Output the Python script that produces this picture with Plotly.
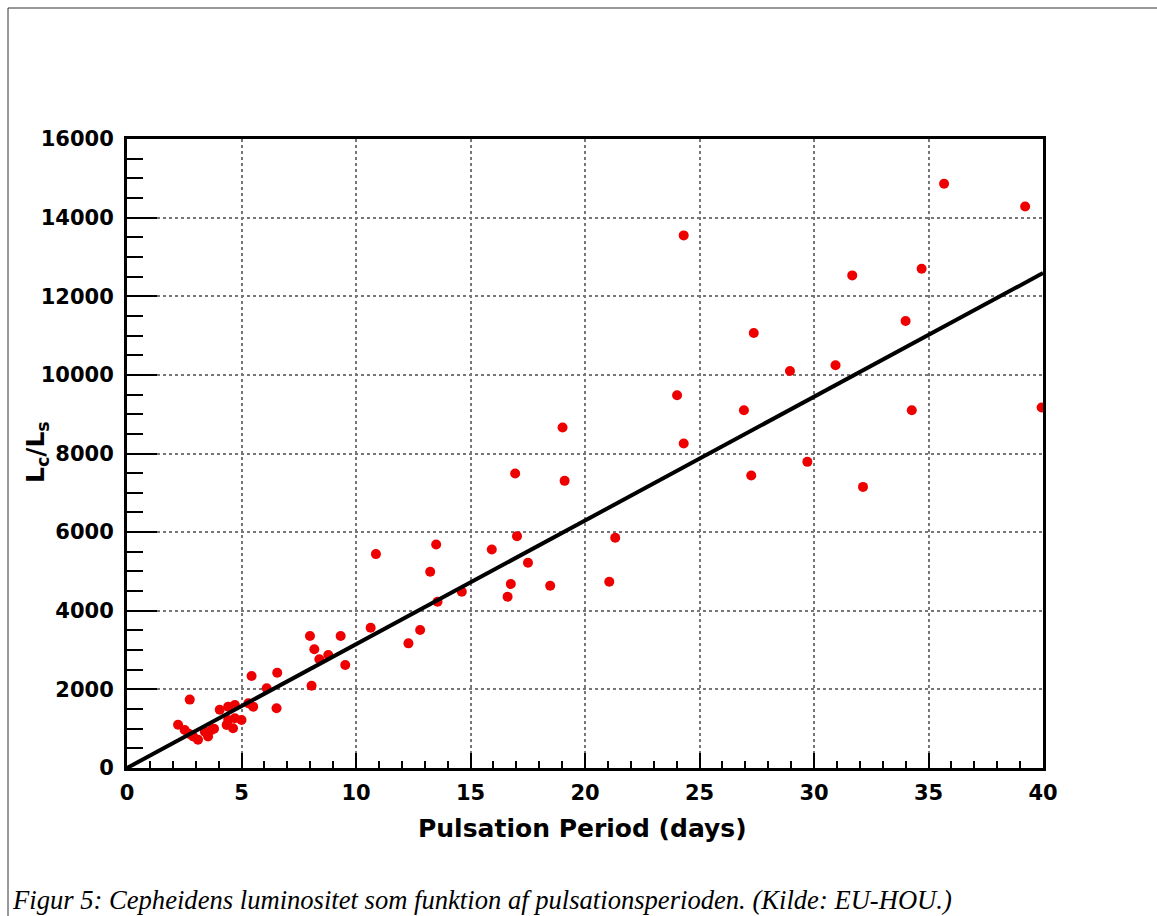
import plotly.graph_objects as go

# Data
period_days = [
    2.23, 2.52, 2.74, 2.89, 3.10, 2.70, 3.40, 3.54, 3.69, 3.80,
    4.05, 4.42, 4.71, 4.35, 4.63, 4.42, 4.71, 5.00, 5.30, 5.51,
    5.44, 6.10, 6.56, 6.53,
    7.99, 8.18, 8.06, 8.40, 8.79, 9.33, 9.53, 10.64, 12.29, 12.80,
    10.87, 13.24, 13.50, 13.56, 14.62, 15.93, 16.62, 16.76, 16.95, 17.03,
    17.51, 18.48, 19.02, 19.11, 21.06, 21.32,
    24.02, 24.31, 24.31, 26.94, 27.26, 27.37, 28.95, 29.71, 30.94, 31.67,
    32.14, 34.00, 34.27, 34.70, 35.68, 39.22, 39.94,
]
luminosity_ratio = [
    1100, 968, 1740, 800, 720, 870, 925, 800, 968, 1000,
    1480, 1561, 1604, 1095, 1011, 1222, 1265, 1222, 1646, 1561,
    2341, 2028, 2425, 1519,
    3357, 3019, 2094, 2765, 2874, 3357, 2620, 3568, 3171, 3510,
    5441, 4991, 5687, 4230, 4484, 5560, 4356, 4679, 7491, 5898,
    5220, 4636, 8661, 7304, 4738, 5855,
    9482, 13548, 8254, 9100, 7441, 11065, 10100, 7787, 10244, 12531,
    7151, 11370, 9100, 12701, 14861, 14284, 9169,
]
fit_x = [0, 40]
fit_y = [0, 12590]

x_tick_vals = [0, 5, 10, 15, 20, 25, 30, 35, 40]
y_tick_vals = [0, 2000, 4000, 6000, 8000, 10000, 12000, 14000, 16000]
y_tick_text = [str(v) for v in y_tick_vals]

x_title = "Pulsation Period (days)"
y_title = "L<sub>c</sub>/L<sub>s</sub>"
caption = "Figur 5: Cepheidens luminositet som funktion af pulsationsperioden. (Kilde: EU-HOU.)"

tick_font = dict(family="DejaVu Sans", size=21, color="black", weight="bold")

fig = go.Figure()
fig.add_trace(go.Scatter(
    x=period_days, y=luminosity_ratio, mode="markers",
    marker=dict(color="#ee0000", size=10, line=dict(width=0)),
    showlegend=False,
))
fig.add_trace(go.Scatter(
    x=fit_x, y=fit_y, mode="lines",
    line=dict(color="black", width=4),
    showlegend=False,
))

fig.update_layout(
    width=1157, height=916,
    margin=dict(l=127, r=114, t=139, b=148),
    paper_bgcolor="white", plot_bgcolor="white",
    xaxis=dict(
        range=[0, 40], tickvals=x_tick_vals,
        ticks="inside", ticklen=15, tickwidth=2, tickcolor="black",
        showline=True, linewidth=3, linecolor="black", mirror=True,
        showgrid=True, gridcolor="#777777", griddash="dot", gridwidth=1.5,
        zeroline=False, tickfont=tick_font, ticklabelstandoff=4,
        minor=dict(dtick=1, ticks="inside", ticklen=7, tickwidth=2,
                   tickcolor="black", showgrid=False),
    ),
    yaxis=dict(
        range=[0, 16000], tickvals=y_tick_vals, ticktext=y_tick_text,
        ticks="inside", ticklen=30, tickwidth=2, tickcolor="black",
        showline=True, linewidth=3, linecolor="black", mirror=True,
        showgrid=True, gridcolor="#777777", griddash="dot", gridwidth=1.5,
        zeroline=False, tickfont=tick_font, ticklabelstandoff=6,
        minor=dict(dtick=500, ticks="inside", ticklen=16, tickwidth=2,
                   tickcolor="black", showgrid=False),
    ),
    shapes=[
        dict(type="line", xref="paper", yref="paper",
             x0=(8 - 127) / 916, x1=(1157 - 127) / 916,
             y0=(768 - 8) / 629, y1=(768 - 8) / 629,
             line=dict(color="#333333", width=1)),
        dict(type="line", xref="paper", yref="paper",
             x0=(8 - 127) / 916, x1=(8 - 127) / 916,
             y0=(768 - 8) / 629, y1=(768 - 916) / 629,
             line=dict(color="#333333", width=1)),
    ],
    annotations=[
        dict(text=x_title, xref="paper", yref="paper",
             x=(582 - 127) / 916, y=(768 - 828) / 629,
             xanchor="center", yanchor="middle", showarrow=False,
             font=dict(family="DejaVu Sans", size=25, color="black", weight="bold")),
        dict(text=y_title, xref="paper", yref="paper",
             x=(37 - 127) / 916, y=(768 - 452) / 629, textangle=-90,
             xanchor="center", yanchor="middle", showarrow=False,
             font=dict(family="DejaVu Sans", size=25, color="black", weight="bold")),
        dict(text="<i>" + caption + "</i>", xref="paper", yref="paper",
             x=(10 - 127) / 916, y=(768 - 900) / 629,
             xanchor="left", yanchor="middle", showarrow=False,
             font=dict(family="Liberation Serif", size=26.6, color="black")),
    ],
)

fig.write_html("out.html")
